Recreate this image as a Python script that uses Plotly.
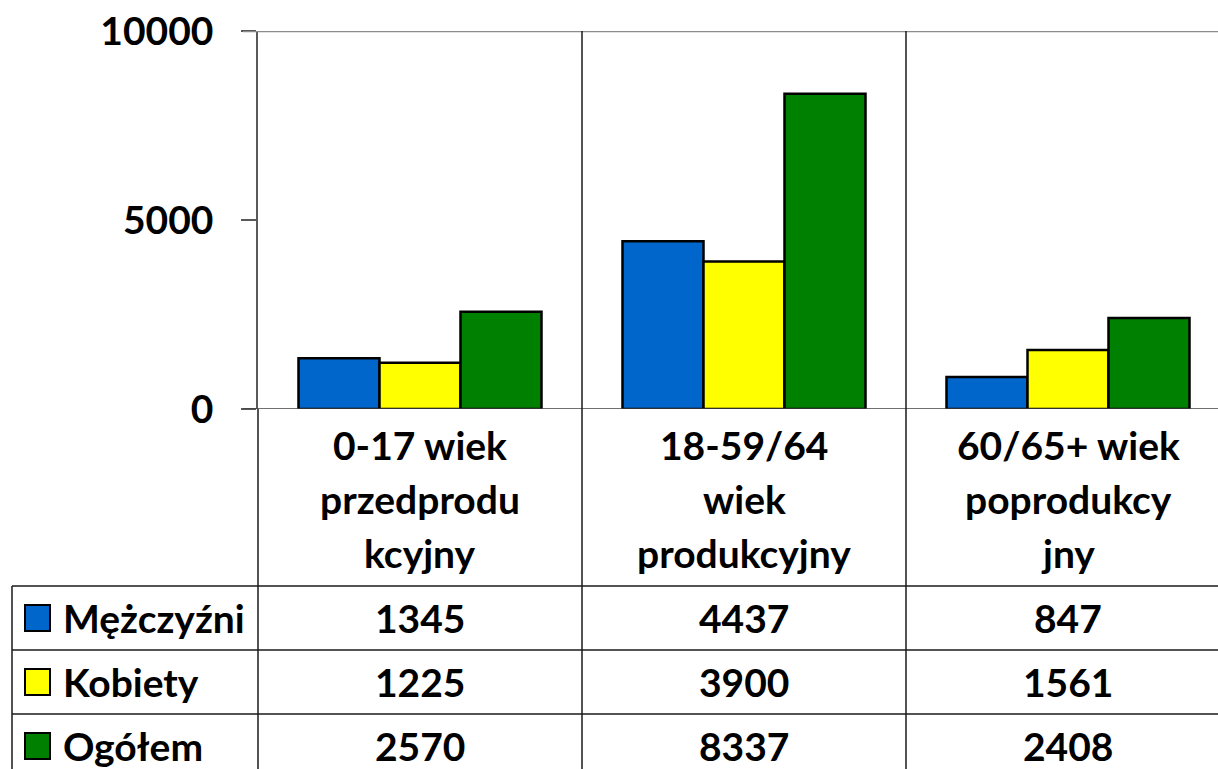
import plotly.graph_objects as go

categories = ["0-17 wiek przedprodukcyjny", "18-59/64 wiek produkcyjny", "60/65+ wiek poprodukcyjny"]
category_lines = [
    ["0-17 wiek", "przedprodu", "kcyjny"],
    ["18-59/64", "wiek", "produkcyjny"],
    ["60/65+ wiek", "poprodukcy", "jny"],
]
series_names = ["Mężczyźni", "Kobiety", "Ogółem"]
mezczyzni = [1345, 4437, 847]
kobiety = [1225, 3900, 1561]
ogolem = [2570, 8337, 2408]
series_values = [mezczyzni, kobiety, ogolem]
series_colors = ["#0066CC", "#FFFF00", "#008000"]
y_ticks = [0, 5000, 10000]

W, H = 1218, 769
L, R, T, B = 258, 0, 31, 360
plot_h = H - T - B  # 378
plot_w = W - L - R  # 960

def py(p):  # pixel row -> paper y
    return (H - B - p) / plot_h

def px(p):  # pixel col -> paper x
    return (p - L) / plot_w

FONT = "Lato"
FS = 39

fig = go.Figure()
xs = list(range(len(categories)))
for name, vals, col in zip(series_names, series_values, series_colors):
    fig.add_trace(go.Bar(
        x=xs, y=vals, name=name,
        marker=dict(color=col, line=dict(color="black", width=2.5)),
        showlegend=False,
    ))

fig.update_layout(
    width=W, height=H,
    margin=dict(l=L, r=R, t=T, b=B, pad=0),
    paper_bgcolor="white", plot_bgcolor="white",
    barmode="group", bargap=0.25, bargroupgap=0,
    font=dict(family=FONT, size=FS, color="black"),
    xaxis=dict(range=[-0.5, -0.5 + plot_w / 324], showticklabels=False,
               showgrid=False, zeroline=False, showline=False, ticks=""),
    yaxis=dict(range=[0, 10000], tickvals=y_ticks, ticktext=[str(v) for v in y_ticks],
               showgrid=False, zeroline=False, showline=True, linecolor="#595959", linewidth=1.5,
               ticks="outside", ticklen=15, tickcolor="#595959", tickwidth=1.5,
               tickfont=dict(family=FONT, size=FS, color="black", weight="bold"),
               ticklabelstandoff=20),
)

shapes = []
line_dark = dict(color="#1a1a1a", width=1.5)
# top border (10000 line)
shapes.append(dict(type="line", xref="paper", yref="y", x0=px(243), x1=1, y0=10000, y1=10000,
                   line=dict(color="#8c8c8c", width=2.5)))
# x axis line at 0
shapes.append(dict(type="line", xref="paper", yref="y", x0=px(243), x1=1, y0=0, y1=0,
                   line=dict(color="#404040", width=1.5)))
# category dividers through plot and table
for i in range(len(categories) - 1):
    shapes.append(dict(type="line", xref="x", yref="paper", x0=i + 0.5, x1=i + 0.5,
                       y0=py(780), y1=1, line=line_dark))
# left axis extension down through table
shapes.append(dict(type="line", xref="paper", yref="paper", x0=0, x1=0, y0=py(780), y1=0,
                   line=line_dark))
# table left border
shapes.append(dict(type="line", xref="paper", yref="paper", x0=px(12), x1=px(12), y0=py(780), y1=py(586),
                   line=line_dark))
# row lines
for yy in [586, 650, 714]:
    shapes.append(dict(type="line", xref="paper", yref="paper", x0=px(12), x1=1, y0=py(yy), y1=py(yy),
                       line=line_dark))

annotations = []
# category labels
line_centers = [445, 499, 553]
for i, lines in enumerate(category_lines):
    for j, txt in enumerate(lines):
        annotations.append(dict(x=i, xref="x", y=py(line_centers[j]), yref="paper",
                                text=txt, showarrow=False, xanchor="center", yanchor="middle",
                                font=dict(family=FONT, size=FS, color="black", weight="bold")))
# table rows
row_centers = [618, 682, 746]
for r, (name, vals, col) in enumerate(zip(series_names, series_values, series_colors)):
    yc = row_centers[r]
    shapes.append(dict(type="rect", xref="paper", yref="paper", x0=px(25), x1=px(50),
                       y0=py(yc + 13), y1=py(yc - 13), fillcolor=col,
                       line=dict(color="black", width=2)))
    annotations.append(dict(x=px(61), xref="paper", y=py(yc), yref="paper", text=name,
                            showarrow=False, xanchor="left", yanchor="middle",
                            font=dict(family=FONT, size=FS, color="black", weight="bold")))
    for i, v in enumerate(vals):
        annotations.append(dict(x=i, xref="x", y=py(yc), yref="paper", text=str(v),
                                showarrow=False, xanchor="center", yanchor="middle",
                                font=dict(family=FONT, size=FS, color="black", weight="bold")))

fig.update_layout(shapes=shapes, annotations=annotations)
fig.write_html("out.html", config={"displayModeBar": False},
               post_script="document.body.style.margin='0';document.body.style.padding='0';")
